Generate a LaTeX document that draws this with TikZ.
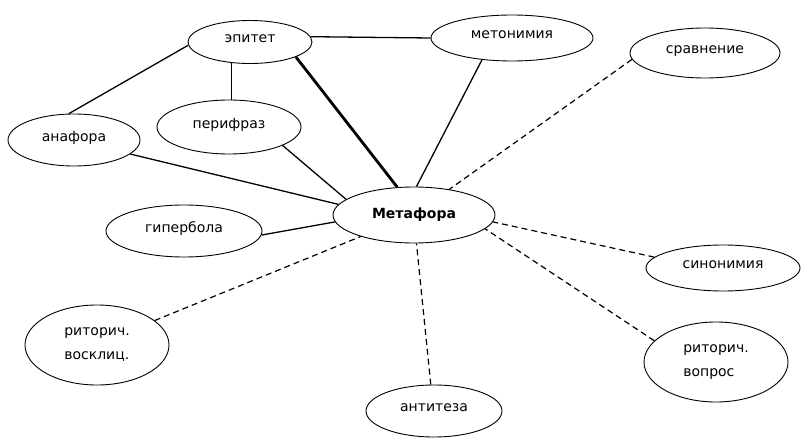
\documentclass[tikz,border=0pt]{standalone}
\usepackage{fontspec}
\setmainfont{DejaVu Sans}
\usetikzlibrary{shapes.geometric}
\tikzset{
  oval/.style={ellipse, draw, line width=0.9pt, inner sep=0pt, font=\fontsize{14}{24}\selectfont, align=left},
  one/.style={text depth=7pt},
  solidlink/.style={line width=1.3pt},
  thicklink/.style={line width=2.8pt},
  dashlink/.style={line width=1.2pt, dash pattern=on 6pt off 4pt}
}
\begin{document}
\begin{tikzpicture}[x=1pt,y=-1pt]
\useasboundingbox (0,0) rectangle (801,441);
\node[oval, one, minimum width=124pt, minimum height=43pt] (E) at (250,42) {эпитет};
\node[oval, one, minimum width=162pt, minimum height=46pt] (M) at (512,38) {метонимия};
\node[oval, one, minimum width=150pt, minimum height=50pt] (S) at (705,53) {сравнение};
\node[oval, one, minimum width=132pt, minimum height=52pt] (A) at (74,140) {анафора};
\node[oval, one, minimum width=144pt, minimum height=54pt] (P) at (229,127) {перифраз};
\node[oval, minimum width=162pt, minimum height=56pt, font=\fontsize{14}{24}\selectfont\bfseries] (Mt) at (414,215) {Метафора};
\node[oval, one, minimum width=156pt, minimum height=52pt] (G) at (184,231) {гипербола};
\node[oval, minimum width=144pt, minimum height=80pt] (V) at (97,345) {риторич.\\восклиц.};
\node[oval, one, minimum width=136pt, minimum height=52pt] (T) at (434,411) {антитеза};
\node[oval, one, minimum width=154pt, minimum height=46pt] (Sy) at (723,268) {синонимия};
\node[oval, minimum width=144pt, minimum height=80pt] (Q) at (716,362) {риторич.\\вопрос};

\draw[solidlink] (E.5) -- (M.180);
\draw[solidlink] (E.183) -- (A.101);
\draw[solidlink] (E.229) -- (E.229 |- P.north);
\draw[thicklink] (E.342) -- (Mt.121);
\draw[solidlink] (M.216) -- (Mt.85);
\draw[dashlink] (S.185) -- (Mt.36);
\draw[solidlink] (A.346) -- (Mt.172);
\draw[solidlink] (P.341) -- (Mt.167);
\draw[solidlink] (G.357) -- (Mt.185);
\draw[dashlink] (V.23) -- (Mt.202);
\draw[dashlink] (T.97) -- (Mt.275);
\draw[dashlink] (Sy.171) -- (Mt.355);
\draw[dashlink] (Q.161) -- (Mt.349);
\end{tikzpicture}
\end{document}
